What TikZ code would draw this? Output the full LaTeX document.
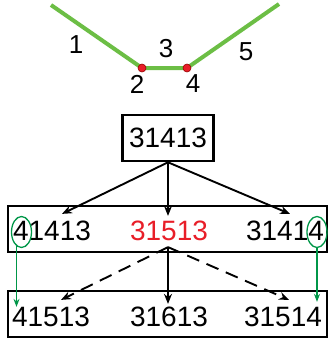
\documentclass[tikz,border=0pt]{standalone}
\usepackage{fontspec}
\setmainfont{Liberation Sans}
\usepackage{tikz}
\usetikzlibrary{arrows.meta, positioning, calc, shapes.geometric}

\definecolor{pathgreen}{RGB}{108,190,69}
\definecolor{markgreen}{RGB}{0,150,72}
\definecolor{hotred}{RGB}{232,30,40}

\begin{document}
\begin{tikzpicture}[x=1pt, y=-1pt, >={Stealth[length=10pt,width=8pt]},
    num/.style={font=\fontsize{28}{30}\selectfont, inner sep=0pt},
    lab/.style={font=\fontsize{26}{28}\selectfont, inner sep=0pt},
    rowbox/.style={draw, line width=2pt, minimum width=319pt, minimum height=46pt, inner sep=0pt},
    tree/.style={->, line width=1.9pt},
    pick/.style={draw=markgreen, line width=1.3pt, ellipse, minimum width=20pt, minimum height=31pt, inner sep=0pt},
    carry/.style={->, markgreen, line width=1.4pt, >={Stealth[length=8pt,width=6pt]}}]
  \useasboundingbox (0,0) rectangle (328,341);

  % Path with the two turning points
  \coordinate (p1) at (51,5);
  \coordinate (p2) at (142,68);
  \coordinate (p3) at (187,68);
  \coordinate (p4) at (279,4);
  \draw[pathgreen, line width=4pt] (p1) -- (p2) -- (p3) -- (p4);
  \fill[hotred, draw=red!60!black, line width=0.6pt] (p2) circle (4pt) (p3) circle (4pt);
  \node[lab] (l1) at (76,45) {1};
  \node[lab] (l3) at (166,49) {3};
  \node[lab] (l5) at (246,52) {5};
  \node[lab] (l2) at (137,84) {2};
  \node[lab] (l4) at (193,84) {4};

  % Root word and its two rows
  \node[draw, line width=2.6pt, minimum width=91pt, minimum height=46pt, num] (root) at (168,138) {31413};
  \node[rowbox] (row1) at (167.5,229) {};
  \node[rowbox] (row2) at (167.5,314) {};

  \node[num] (a1) at (52,231) {41413};
  \node[num, text=hotred] (a2) at (169,231) {31513};
  \node[num] (a3) at (285,231) {31414};
  \node[num] (b1) at (51,317) {41513};
  \node[num] (b2) at (169,317) {31613};
  \node[num] (b3) at (283,317) {31514};

  % First expansion
  \draw[tree] (root.south) -- ($(a1.north)+(10,-7)$);
  \draw[tree] (root.south) -- ($(a2.north)+(-1,-5)$);
  \draw[tree] (root.south) -- ($(a3.north)+(5,-7)$);

  % Second expansion from the red word
  \coordinate (apex) at ($(a2.south)+(-1,6)$);
  \draw[tree, dash pattern=on 13pt off 8pt] (apex) -- ($(b1.north)+(10,-7)$);
  \draw[tree] (apex) -- ($(b2.north)+(-1,-3)$);
  \draw[tree, dash pattern=on 13pt off 8pt] (apex) -- ($(b3.north)+(6,-7)$);

  % Carried end digits
  \node[pick] (e1) at (21.5,232) {};
  \node[pick] (e2) at (317,232) {};
  \draw[carry] ($(e1.south)+(-5,-2)$) coordinate (g1) -- (g1 |- b1.north);
  \draw[carry] (e2.south) -- ($(e2.south |- b3.north)+(0,-5)$);
\end{tikzpicture}
\end{document}
